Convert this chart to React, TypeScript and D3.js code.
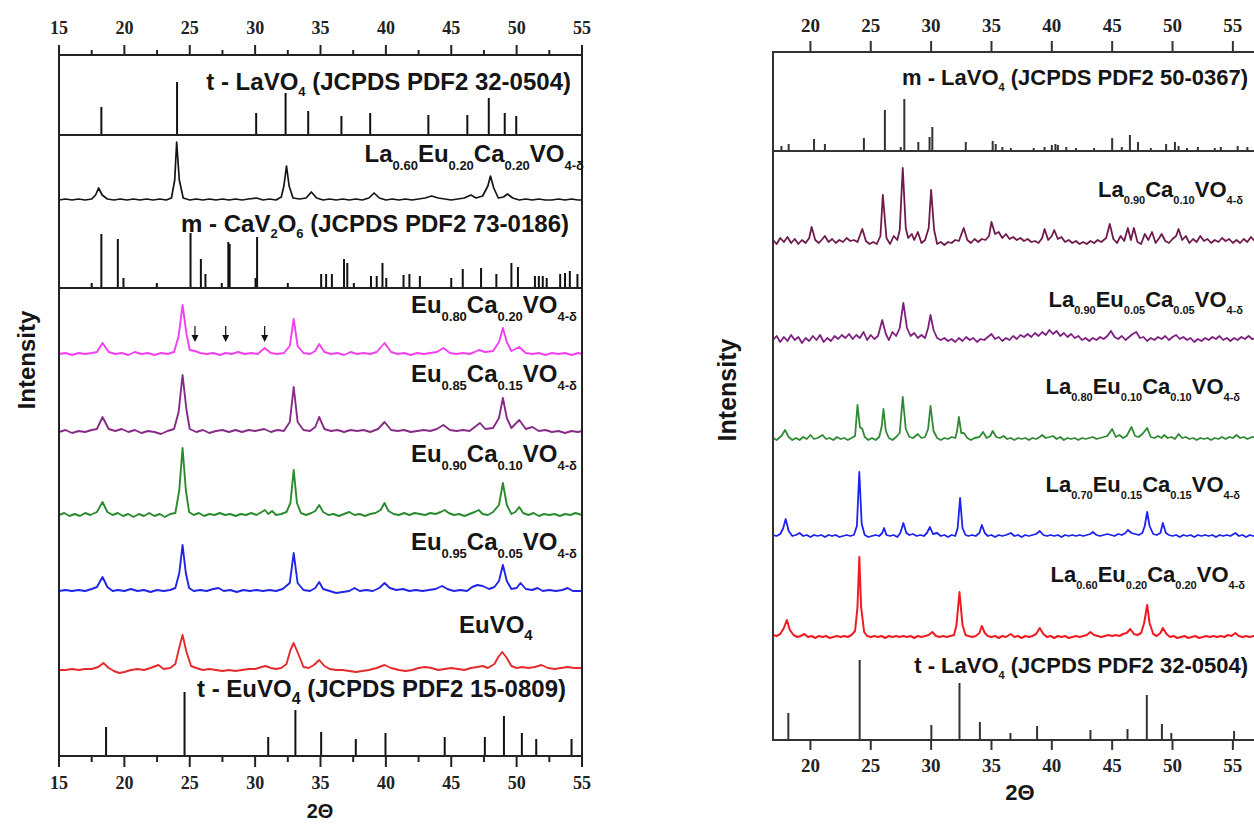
import React from "react";
import * as d3 from "d3";

type Pt = [number, number];

// ---------- axis ticks ----------
const leftMajorTicks = [15, 20, 25, 30, 35, 40, 45, 50, 55];
const leftMinorTicks = [17.5, 22.5, 27.5, 32.5, 37.5, 42.5, 47.5, 52.5];
const rightMajorTicks = [20, 25, 30, 35, 40, 45, 50, 55];

// ---------- left panel reference patterns (2θ, intensity) ----------
const tLaVO4Left: Pt[] = [[18.24,28],[24.03,53],[30.08,22],[32.33,42],[34.06,24],[36.6,19],[38.8,22],[43.25,20],[46.23,20],[47.87,37],[49.09,22],[49.97,19]];
const mCaV2O6: Pt[] = [[17.5,5],[18.24,54],[19.5,49],[19.93,10],[22.48,5],[25.06,55],[25.85,29],[26.2,14],[27.45,5],[27.95,46],[28.05,44],[30.03,10],[30.15,51],[32.5,5],[35.05,14],[35.43,14],[35.87,14],[36.8,29],[37.05,25],[37.55,5],[38.86,12],[39.3,12],[39.74,25],[40.03,10],[41.35,13],[41.8,14],[42.6,12],[45.0,10],[45.88,19],[47.28,20],[48.45,14],[49.6,25],[50.1,21],[51.4,12],[51.7,12],[52.0,12],[52.3,10],[53.33,14],[53.7,15],[54.07,17],[54.65,14]];
const tEuVO4: Pt[] = [[18.6,29],[24.6,64],[31.0,19],[33.08,46],[35.05,24],[37.7,17],[39.97,23],[44.5,19],[47.57,19],[49.03,40],[50.4,23],[51.5,17],[54.2,17]];

// ---------- left panel measured patterns ----------
const la60Left: Pt[] = [[15,0],[15.5,1],[16,0],[16.5,1],[17,0],[17.5,1],[17.8,5],[18.03,12],[18.3,5],[18.7,1],[19.2,0],[19.7,1],[20.2,0],[20.7,1],[21.2,0],[21.7,1],[22.2,0],[22.7,1],[23.2,0],[23.6,2],[23.85,20],[24.0,58],[24.2,20],[24.5,2],[25.0,0],[25.5,1],[26.0,0],[26.5,1],[27.0,0],[27.5,1],[28.0,0],[28.5,1],[29.0,0],[29.5,1],[30.1,2],[30.6,0],[31.1,1],[31.6,0],[32.0,3],[32.2,14],[32.4,34],[32.6,14],[32.9,2],[33.4,1],[33.9,2],[34.3,8],[34.7,2],[35.2,0],[35.7,1],[36.2,0],[36.7,1],[37.2,0],[37.7,1],[38.2,0],[38.7,2],[39.1,7],[39.5,2],[40.0,0],[40.5,1],[41.0,0],[41.5,1],[42.0,0],[42.5,1],[43.0,2],[43.5,4],[44.0,2],[44.5,1],[45.0,0],[45.5,1],[46.0,2],[46.5,5],[46.9,2],[47.4,4],[47.8,14],[48.0,24],[48.25,12],[48.6,2],[49.0,3],[49.3,6],[49.7,2],[50.2,0],[50.7,1],[51.2,0],[51.7,1],[52.2,0],[52.7,0],[53.2,1],[53.7,0],[54.2,1],[54.7,0],[55,0]];
const eu80: Pt[] = [[15,0],[15.5,1],[16,-1],[16.5,1],[17,0],[17.5,1],[17.9,2],[18.33,11],[18.8,2],[19.3,0],[19.8,1],[20.3,-1],[20.8,2],[21.3,0],[21.8,1],[22.3,-1],[22.8,1],[23.3,0],[23.8,2],[24.15,18],[24.45,49],[24.75,20],[25.0,4],[25.4,3],[25.8,1],[26.3,0],[26.8,1],[27.3,-1],[27.75,1],[28.2,0],[28.7,2],[29.2,0],[29.7,1],[30.2,0],[30.73,6],[31.2,1],[31.7,0],[32.2,1],[32.65,8],[32.95,35],[33.25,8],[33.7,1],[34.2,0],[34.6,3],[34.9,10],[35.3,2],[35.8,0],[36.3,1],[36.8,-1],[37.3,2],[37.8,0],[38.3,1],[38.8,0],[39.3,2],[39.9,11],[40.4,2],[40.9,0],[41.4,1],[41.9,-1],[42.4,1],[42.9,0],[43.4,1],[43.9,2],[44.4,6],[44.9,1],[45.4,0],[45.9,1],[46.4,0],[46.8,2],[47.1,4],[47.6,2],[48.2,3],[48.65,12],[48.95,26],[49.25,12],[49.6,3],[50.2,7],[50.7,1],[51.2,0],[51.7,1],[52.2,-1],[52.7,1],[53.2,0],[53.7,1],[54.2,-1],[54.7,1],[55,0]];
const eu85: Pt[] = [[15,0],[15.5,2],[16,-1],[16.5,1],[17,0],[17.5,2],[17.9,3],[18.33,15],[18.8,3],[19.3,1],[19.8,3],[20.3,0],[20.8,2],[21.3,-1],[21.8,1],[22.3,0],[22.8,-2],[23.3,1],[23.8,3],[24.15,20],[24.45,57],[24.75,22],[25.0,3],[25.5,0],[26.0,2],[26.5,-1],[27.0,1],[27.5,2],[28.0,0],[28.5,2],[29.0,0],[29.5,2],[30.0,1],[30.7,3],[31.2,0],[31.7,2],[32.2,1],[32.65,10],[32.95,45],[33.25,10],[33.7,2],[34.2,1],[34.6,5],[34.9,15],[35.3,3],[35.8,1],[36.3,2],[36.8,0],[37.3,2],[37.8,1],[38.3,2],[38.8,0],[39.4,3],[39.9,10],[40.4,2],[40.9,1],[41.4,2],[41.9,0],[42.4,1],[42.9,2],[43.4,1],[43.9,3],[44.4,7],[44.9,2],[45.4,1],[45.9,2],[46.4,1],[46.8,5],[47.2,9],[47.6,3],[48.2,4],[48.65,14],[48.95,34],[49.25,14],[49.6,4],[50.2,12],[50.7,3],[51.2,5],[51.7,1],[52.2,2],[52.7,0],[53.2,1],[53.7,-1],[54.2,1],[54.7,0],[55,1]];
const eu90: Pt[] = [[15,0],[15.4,2],[15.8,-1],[16.2,1],[16.6,-1],[17.0,2],[17.4,0],[17.9,3],[18.33,13],[18.7,3],[19.1,0],[19.5,2],[19.9,-1],[20.3,1],[20.7,-2],[21.1,1],[21.5,-1],[21.9,2],[22.3,-1],[22.7,1],[23.1,-2],[23.5,1],[23.9,2],[24.2,25],[24.45,67],[24.7,25],[24.95,3],[25.3,0],[25.7,2],[26.1,-1],[26.5,1],[26.9,0],[27.3,2],[27.7,0],[28.1,1],[28.5,-1],[28.9,1],[29.3,0],[29.7,2],[30.1,0],[30.5,3],[30.75,5],[31.0,1],[31.3,4],[31.6,0],[32.0,1],[32.4,3],[32.7,12],[32.95,45],[33.2,12],[33.5,2],[33.9,0],[34.3,2],[34.6,4],[34.9,10],[35.2,3],[35.6,0],[36.0,1],[36.4,-1],[36.8,1],[37.2,3],[37.6,0],[38.0,1],[38.4,-1],[38.8,1],[39.2,2],[39.6,5],[39.9,12],[40.2,4],[40.6,1],[41.0,0],[41.4,2],[41.8,0],[42.2,2],[42.6,1],[43.0,0],[43.4,2],[43.8,1],[44.2,3],[44.5,5],[44.8,2],[45.2,0],[45.6,1],[46.0,-1],[46.4,1],[46.8,3],[47.1,5],[47.4,1],[47.8,0],[48.2,3],[48.65,10],[48.95,32],[49.25,10],[49.6,1],[49.9,3],[50.2,8],[50.5,2],[50.9,0],[51.3,2],[51.7,-1],[52.1,1],[52.5,0],[52.9,1],[53.3,-1],[53.7,1],[54.1,0],[54.5,2],[55,0]];
const eu95: Pt[] = [[15,0],[15.5,1],[16,0],[16.5,1],[17,0],[17.5,2],[17.9,4],[18.33,14],[18.7,4],[19.1,0],[19.5,1],[20.0,0],[20.5,2],[21.0,0],[21.5,1],[22.0,-1],[22.5,1],[23.0,0],[23.5,1],[23.9,3],[24.2,18],[24.45,46],[24.7,18],[24.95,3],[25.3,0],[25.8,1],[26.3,0],[26.8,2],[27.2,3],[27.6,0],[28.1,1],[28.6,-1],[29.1,1],[29.6,0],[30.1,1],[30.6,0],[31.1,1],[31.6,0],[32.1,2],[32.65,8],[32.95,38],[33.25,8],[33.7,1],[34.2,0],[34.6,3],[34.9,9],[35.2,2],[35.7,0],[36.2,-2],[36.7,-1],[37.2,0],[37.6,3],[38.0,0],[38.5,1],[39.0,0],[39.5,3],[39.9,8],[40.3,3],[40.8,1],[41.3,2],[41.8,0],[42.3,1],[42.8,0],[43.3,1],[43.8,2],[44.3,5],[44.7,2],[45.2,0],[45.7,1],[46.2,0],[46.6,4],[47.0,6],[47.4,5],[47.9,2],[48.3,4],[48.65,10],[48.95,26],[49.25,10],[49.6,2],[50.0,3],[50.3,8],[50.7,2],[51.2,1],[51.6,3],[52.0,0],[52.5,1],[53.0,0],[53.5,1],[53.9,3],[54.3,0],[55,0]];
const euVO4: Pt[] = [[15,0],[15.5,0],[16,1],[16.5,0],[17,1],[17.5,1],[18.0,3],[18.4,7],[18.8,2],[19.2,-1],[19.6,-3],[20.0,-2],[20.5,0],[21.0,1],[21.5,0],[22.0,2],[22.6,5],[23.0,1],[23.5,2],[23.9,6],[24.15,20],[24.45,35],[24.75,18],[25.1,4],[25.5,2],[26.0,0],[26.5,1],[27.0,0],[27.5,-1],[28.0,0],[28.5,-1],[29.0,0],[29.5,1],[30.0,1],[30.5,3],[30.8,4],[31.2,2],[31.6,1],[32.0,2],[32.4,6],[32.7,20],[32.95,27],[33.3,16],[33.7,3],[34.1,2],[34.5,5],[34.9,10],[35.3,4],[35.7,1],[36.2,0],[36.7,0],[37.2,-1],[37.7,-2],[38.2,-1],[38.7,0],[39.3,2],[39.9,5],[40.4,2],[41.0,0],[41.5,-1],[42.0,0],[42.5,2],[43.0,3],[43.5,2],[44.0,0],[44.5,1],[45.0,2],[45.5,1],[46.0,0],[46.5,2],[47.0,3],[47.4,4],[47.8,2],[48.3,6],[48.6,13],[48.9,18],[49.2,13],[49.6,4],[50.0,2],[50.4,3],[50.9,2],[51.4,3],[51.9,5],[52.4,2],[52.9,1],[53.4,2],[53.9,3],[54.4,2],[55,2]];
const arrowPositions = [25.4, 27.75, 30.73];

// ---------- right panel reference patterns ----------
const mLaVO4: Pt[] = [[17.6,5],[18.2,7],[20.3,12],[21.2,7],[24.43,13],[26.17,41],[27.48,4],[27.78,52],[28.94,9],[29.87,14],[30.1,24],[32.87,9],[35.1,10],[35.35,7],[35.9,4],[36.6,3],[38.5,3],[39.4,4],[40.0,6],[40.3,7],[40.5,6],[41.2,4],[42.0,3],[43.5,3],[45.0,13],[45.8,4],[46.47,16],[47.14,9],[48.2,3],[49.47,7],[50.2,9],[50.5,5],[51.2,3],[52.1,4],[53.5,3],[54.0,4],[55.4,5],[56.2,4]];
const tLaVO4Right: Pt[] = [[18.17,27],[24.08,80],[30.02,15],[32.35,57],[34.04,18],[36.57,7],[38.78,14],[43.2,10],[46.27,11],[47.87,45],[49.12,16],[49.9,7],[55.1,9]];

// ---------- right panel measured patterns ----------
const la90Ca10: Pt[] = [[16.9,2],[17.2,-2],[17.5,4],[17.8,0],[18.1,5],[18.4,-1],[18.7,3],[19.0,-2],[19.3,2],[19.6,-1],[19.9,4],[20.1,15],[20.4,2],[20.7,-1],[21.0,3],[21.2,6],[21.5,0],[21.8,3],[22.1,-1],[22.4,2],[22.7,0],[23.0,4],[23.3,1],[23.6,2],[23.9,0],[24.3,13],[24.6,1],[24.9,-2],[25.2,0],[25.5,-2],[25.8,6],[26.0,47],[26.3,4],[26.6,-2],[26.9,6],[27.2,2],[27.4,12],[27.65,74],[27.9,14],[28.1,4],[28.4,8],[28.6,2],[28.9,10],[29.2,-1],[29.5,2],[29.8,14],[30.0,52],[30.25,12],[30.5,-2],[30.8,0],[31.1,-3],[31.4,0],[31.7,-1],[32.0,2],[32.3,1],[32.7,14],[33.0,2],[33.3,-1],[33.6,3],[33.9,0],[34.2,3],[34.5,2],[34.8,6],[35.0,20],[35.3,8],[35.6,10],[35.9,4],[36.2,8],[36.5,3],[36.8,5],[37.1,2],[37.4,4],[37.7,1],[38.0,3],[38.3,0],[38.6,1],[38.9,-1],[39.2,4],[39.4,13],[39.7,2],[40.0,6],[40.2,12],[40.5,3],[40.8,5],[41.1,0],[41.4,2],[41.7,-1],[42.0,1],[42.3,-2],[42.6,0],[42.9,-2],[43.2,1],[43.5,-1],[43.8,2],[44.1,0],[44.5,4],[44.8,18],[45.1,3],[45.4,-1],[45.7,6],[46.0,1],[46.3,14],[46.55,2],[46.8,14],[47.1,0],[47.4,-2],[47.7,8],[48.0,2],[48.3,10],[48.6,-1],[48.9,4],[49.1,8],[49.4,1],[49.7,-1],[50.0,3],[50.3,6],[50.5,13],[50.8,2],[51.1,6],[51.4,-1],[51.7,3],[52.0,0],[52.3,6],[52.6,1],[52.9,3],[53.2,-1],[53.5,2],[53.8,0],[54.1,4],[54.4,1],[54.7,3],[55.0,-1],[55.3,2],[55.6,-1],[55.9,3],[56.2,0],[56.5,5],[56.8,1],[57.0,2]];
const la90Eu05: Pt[] = [[16.9,0],[17.2,4],[17.5,-2],[17.8,3],[18.1,-1],[18.4,5],[18.7,0],[19.0,3],[19.3,-3],[19.6,2],[19.9,-1],[20.2,4],[20.5,0],[20.8,5],[21.1,-2],[21.4,2],[21.7,-1],[22.0,4],[22.3,1],[22.6,5],[22.9,2],[23.2,6],[23.5,1],[23.8,5],[24.1,2],[24.4,8],[24.7,0],[25.0,5],[25.3,1],[25.6,4],[25.95,20],[26.25,6],[26.5,0],[26.8,8],[27.1,4],[27.4,12],[27.7,37],[28.0,12],[28.3,4],[28.6,7],[28.9,2],[29.2,5],[29.5,2],[29.75,12],[29.95,25],[30.2,10],[30.5,2],[30.8,0],[31.1,2],[31.4,-1],[31.7,1],[32.0,-2],[32.3,2],[32.6,-1],[32.9,3],[33.2,0],[33.5,2],[33.8,-2],[34.1,1],[34.4,0],[34.7,3],[35.0,6],[35.3,1],[35.6,3],[35.9,-1],[36.2,2],[36.5,0],[36.8,4],[37.1,1],[37.4,5],[37.7,3],[38.0,6],[38.3,3],[38.6,7],[38.9,4],[39.2,8],[39.5,5],[39.8,10],[40.1,6],[40.4,9],[40.7,4],[41.0,7],[41.3,3],[41.6,6],[41.9,2],[42.2,4],[42.5,0],[42.8,2],[43.1,-1],[43.4,2],[43.7,0],[44.0,3],[44.3,1],[44.6,4],[44.9,9],[45.2,3],[45.5,1],[45.8,4],[46.1,0],[46.4,3],[46.7,6],[47.0,8],[47.3,2],[47.6,3],[47.9,-1],[48.2,2],[48.5,0],[48.8,3],[49.1,1],[49.4,4],[49.7,0],[50.0,3],[50.3,5],[50.6,1],[50.9,3],[51.2,0],[51.5,2],[51.8,-2],[52.1,1],[52.4,-1],[52.7,2],[53.0,0],[53.3,3],[53.6,1],[53.9,4],[54.2,0],[54.5,2],[54.8,-1],[55.1,2],[55.4,0],[55.7,3],[56.0,1],[56.3,4],[56.6,1],[57.0,2]];
const la80Eu10: Pt[] = [[16.9,1],[17.2,-1],[17.6,3],[17.9,9],[18.2,2],[18.5,-1],[18.8,1],[19.1,-1],[19.4,2],[19.7,0],[20.0,4],[20.3,0],[20.6,1],[21.0,4],[21.3,0],[21.6,1],[21.9,-1],[22.2,2],[22.5,0],[22.8,1],[23.1,-1],[23.4,1],[23.7,3],[23.9,34],[24.1,12],[24.3,10],[24.5,2],[24.8,-1],[25.1,1],[25.4,-1],[25.7,2],[25.9,12],[26.05,30],[26.25,8],[26.5,1],[26.8,-1],[27.1,2],[27.4,6],[27.65,42],[27.9,10],[28.2,2],[28.5,1],[28.9,5],[29.2,1],[29.5,2],[29.75,10],[29.95,33],[30.2,8],[30.5,1],[30.8,-1],[31.1,1],[31.4,0],[31.7,2],[32.0,1],[32.15,8],[32.3,22],[32.5,6],[32.7,6],[33.0,1],[33.3,-1],[33.6,1],[34.0,2],[34.3,7],[34.6,1],[34.9,3],[35.1,8],[35.4,2],[35.7,1],[36.0,3],[36.3,0],[36.6,1],[36.9,-1],[37.2,1],[37.5,0],[37.8,1],[38.1,-1],[38.4,1],[38.7,0],[39.0,2],[39.2,4],[39.5,1],[39.8,2],[40.1,3],[40.4,0],[40.7,2],[41.0,-1],[41.3,1],[41.6,0],[41.9,1],[42.2,-1],[42.5,1],[42.8,0],[43.1,1],[43.4,2],[43.7,0],[44.0,1],[44.3,2],[44.6,3],[45.0,10],[45.3,2],[45.6,4],[45.9,1],[46.2,3],[46.6,12],[46.9,3],[47.2,2],[47.5,5],[47.9,11],[48.2,2],[48.5,1],[48.8,3],[49.1,1],[49.3,4],[49.6,1],[49.9,2],[50.2,0],[50.5,5],[50.8,1],[51.1,2],[51.4,0],[51.7,1],[52.0,-1],[52.3,1],[52.6,0],[52.9,1],[53.2,-1],[53.5,1],[53.8,0],[54.1,2],[54.4,0],[54.7,2],[55.0,1],[55.3,4],[55.6,1],[55.9,2],[56.2,0],[56.6,2],[57.0,1]];
const la70Eu15: Pt[] = [[16.9,1],[17.2,0],[17.5,2],[17.75,8],[17.95,17],[18.2,5],[18.5,0],[18.8,1],[19.1,3],[19.4,0],[19.7,1],[20.0,-1],[20.3,1],[20.6,0],[20.9,1],[21.2,-1],[21.5,1],[21.8,0],[22.1,1],[22.4,-1],[22.7,0],[23.0,1],[23.3,0],[23.6,1],[23.85,10],[24.05,64],[24.25,12],[24.5,1],[24.8,-1],[25.1,0],[25.4,1],[25.7,0],[25.95,3],[26.1,8],[26.3,1],[26.6,0],[26.9,1],[27.2,-1],[27.45,3],[27.7,13],[27.95,3],[28.2,1],[28.5,2],[28.8,0],[29.1,1],[29.4,0],[29.65,3],[29.9,9],[30.15,2],[30.5,3],[30.8,0],[31.1,1],[31.4,-1],[31.7,1],[32.0,0],[32.2,8],[32.4,38],[32.6,8],[32.85,1],[33.1,0],[33.4,1],[33.7,0],[34.0,3],[34.2,11],[34.45,3],[34.7,0],[35.0,1],[35.3,-1],[35.6,1],[35.9,0],[36.2,1],[36.6,3],[36.9,0],[37.2,1],[37.5,-1],[37.8,1],[38.1,0],[38.4,1],[38.7,2],[39.0,5],[39.3,1],[39.6,0],[39.9,1],[40.2,0],[40.5,1],[40.8,-1],[41.1,1],[41.4,0],[41.7,1],[42.0,0],[42.3,1],[42.6,0],[42.9,1],[43.2,2],[43.4,4],[43.7,1],[44.0,0],[44.3,1],[44.6,2],[44.9,1],[45.2,0],[45.5,2],[45.8,1],[46.1,3],[46.3,6],[46.6,3],[46.9,2],[47.2,1],[47.5,3],[47.7,10],[47.9,24],[48.1,10],[48.4,2],[48.7,1],[49.0,3],[49.2,13],[49.45,3],[49.7,1],[50.0,0],[50.3,1],[50.6,-1],[50.9,1],[51.2,0],[51.5,1],[51.8,-1],[52.1,1],[52.4,0],[52.7,1],[53.0,0],[53.3,1],[53.6,-1],[53.9,1],[54.2,0],[54.5,1],[54.8,0],[55.2,3],[55.5,0],[55.8,1],[56.1,-1],[56.4,1],[56.7,0],[57.0,1]];
const la60Right: Pt[] = [[16.9,2],[17.2,1],[17.5,3],[17.8,9],[18.05,17],[18.3,7],[18.6,2],[18.9,0],[19.2,1],[19.5,3],[19.8,0],[20.1,1],[20.4,-1],[20.7,1],[21.0,0],[21.3,1],[21.6,-1],[21.9,0],[22.2,1],[22.5,0],[22.8,1],[23.1,0],[23.4,2],[23.7,6],[23.9,30],[24.05,80],[24.2,30],[24.45,5],[24.7,1],[25.0,0],[25.3,1],[25.6,0],[25.9,1],[26.2,-1],[26.5,1],[26.8,0],[27.1,1],[27.4,0],[27.7,1],[28.0,0],[28.3,1],[28.6,-1],[28.9,1],[29.2,0],[29.5,1],[29.8,2],[30.1,5],[30.4,1],[30.7,0],[31.0,1],[31.3,0],[31.6,1],[31.9,2],[32.1,12],[32.35,45],[32.6,12],[32.85,2],[33.1,1],[33.4,0],[33.7,1],[34.0,4],[34.2,11],[34.45,4],[34.7,1],[35.0,0],[35.3,1],[35.6,-1],[35.9,1],[36.2,0],[36.6,3],[36.9,0],[37.2,1],[37.5,-1],[37.8,1],[38.1,0],[38.4,1],[38.7,3],[39.0,9],[39.3,3],[39.6,0],[39.9,1],[40.2,-1],[40.5,1],[40.8,0],[41.1,1],[41.4,-1],[41.7,0],[42.0,1],[42.3,0],[42.6,1],[42.9,2],[43.2,5],[43.5,2],[43.8,1],[44.1,0],[44.4,1],[44.7,2],[45.0,1],[45.3,2],[45.6,1],[45.9,3],[46.2,4],[46.5,8],[46.8,3],[47.1,2],[47.4,4],[47.65,14],[47.9,32],[48.1,14],[48.4,3],[48.7,1],[49.0,4],[49.2,9],[49.5,3],[49.8,0],[50.1,1],[50.4,-1],[50.7,0],[51.0,1],[51.3,-1],[51.6,0],[51.9,1],[52.2,-1],[52.5,0],[52.8,1],[53.1,0],[53.4,1],[53.7,0],[54.0,1],[54.3,0],[54.6,2],[54.9,1],[55.2,4],[55.5,1],[55.8,0],[56.1,1],[56.4,0],[56.7,1],[57.0,1]];

// ---------- labels: [text, subscript?] ----------
type Part = [string, boolean];
const lblTLa: Part[] = [["t - LaVO", false], ["4", true], [" (JCPDS PDF2 32-0504)", false]];
const lblLa60: Part[] = [["La", false], ["0.60", true], ["Eu", false], ["0.20", true], ["Ca", false], ["0.20", true], ["VO", false], ["4-δ", true]];
const lblCaV: Part[] = [["m - CaV", false], ["2", true], ["O", false], ["6", true], [" (JCPDS PDF2 73-0186)", false]];
const lblEu80: Part[] = [["Eu", false], ["0.80", true], ["Ca", false], ["0.20", true], ["VO", false], ["4-δ", true]];
const lblEu85: Part[] = [["Eu", false], ["0.85", true], ["Ca", false], ["0.15", true], ["VO", false], ["4-δ", true]];
const lblEu90: Part[] = [["Eu", false], ["0.90", true], ["Ca", false], ["0.10", true], ["VO", false], ["4-δ", true]];
const lblEu95: Part[] = [["Eu", false], ["0.95", true], ["Ca", false], ["0.05", true], ["VO", false], ["4-δ", true]];
const lblEuVO4: Part[] = [["EuVO", false], ["4", true]];
const lblTEu: Part[] = [["t - EuVO", false], ["4", true], [" (JCPDS PDF2 15-0809)", false]];
const lblMLa: Part[] = [["m - LaVO", false], ["4", true], [" (JCPDS PDF2 50-0367)", false]];
const lblLa90Ca: Part[] = [["La", false], ["0.90", true], ["Ca", false], ["0.10", true], ["VO", false], ["4-δ", true]];
const lblLa90Eu: Part[] = [["La", false], ["0.90", true], ["Eu", false], ["0.05", true], ["Ca", false], ["0.05", true], ["VO", false], ["4-δ", true]];
const lblLa80: Part[] = [["La", false], ["0.80", true], ["Eu", false], ["0.10", true], ["Ca", false], ["0.10", true], ["VO", false], ["4-δ", true]];
const lblLa70: Part[] = [["La", false], ["0.70", true], ["Eu", false], ["0.15", true], ["Ca", false], ["0.15", true], ["VO", false], ["4-δ", true]];
const lblLa60R: Part[] = [["La", false], ["0.60", true], ["Eu", false], ["0.20", true], ["Ca", false], ["0.20", true], ["VO", false], ["4-δ", true]];
const lblTLaR: Part[] = [["t - LaVO", false], ["4", true], [" (JCPDS PDF2 32-0504)", false]];

const SANS = "'Liberation Sans', Arial, Helvetica, sans-serif";
const SERIF = "'Liberation Serif', 'Times New Roman', serif";

function Formula({ parts, x, y, size, sub, anchor = "end", subDy }: { parts: Part[]; x: number; y: number; size: number; sub: number; anchor?: string; subDy: number }) {
  let prevSub = false;
  return (
    <text x={x} y={y} textAnchor={anchor} fontFamily={SANS} fontWeight="bold" fontSize={size} fill="#151515">
      {parts.map(([t, isSub], i) => {
        let dy = 0;
        if (isSub && !prevSub) dy = subDy;
        if (!isSub && prevSub) dy = -subDy;
        prevSub = isSub;
        return (
          <tspan key={i} dy={dy} fontSize={isSub ? sub : size}>{t}</tspan>
        );
      })}
    </text>
  );
}

export default function App() {
  // left panel scales
  const xL = d3.scaleLinear().domain([15, 55]).range([59, 582]);
  const yL = d3.scaleLinear().domain([0, 701]).range([756, 55]);
  // right panel scales
  const xR = d3.scaleLinear().domain([16.9, 57]).range([773, 773 + 40.1 * 12.07]);
  const yR = d3.scaleLinear().domain([0, 688]).range([740, 52]);

  const leftTraces: { data: Pt[]; off: number; color: string; w: number }[] = [
    { data: la60Left, off: 556, color: "#141414", w: 1.7 },
    { data: eu80, off: 402, color: "#f23ff0", w: 1.9 },
    { data: eu85, off: 324, color: "#862c86", w: 1.9 },
    { data: eu90, off: 241, color: "#2a8a2e", w: 1.9 },
    { data: eu95, off: 165, color: "#1f24e6", w: 1.9 },
    { data: euVO4, off: 86, color: "#e42a2a", w: 1.9 },
  ];
  const leftSticks: { data: Pt[]; off: number }[] = [
    { data: tLaVO4Left, off: 621 },
    { data: mCaV2O6, off: 468 },
    { data: tEuVO4, off: 0 },
  ];
  const rightTraces: { data: Pt[]; off: number; color: string; w: number }[] = [
    { data: la90Ca10, off: 498, color: "#6f1a4c", w: 1.8 },
    { data: la90Eu05, off: 400, color: "#7d1f7f", w: 1.8 },
    { data: la80Eu10, off: 301, color: "#2f8a33", w: 1.8 },
    { data: la70Eu15, off: 204, color: "#1e22ee", w: 1.8 },
    { data: la60Right, off: 103, color: "#ee1c22", w: 2 },
  ];
  const rightSticks: { data: Pt[]; off: number }[] = [
    { data: mLaVO4, off: 589 },
    { data: tLaVO4Right, off: 0 },
  ];

  const lineFor = (x: d3.ScaleLinear<number, number>, y: d3.ScaleLinear<number, number>, off: number) =>
    d3.line<Pt>().x((d) => x(d[0])).y((d) => y(off + d[1])).curve(d3.curveLinear);

  const leftSep = [621, 468];
  const rightSep = [589];

  return (
    <svg width={1254} height={825} style={{ position: "absolute", left: 0, top: 0, background: "#fff" }}>
      <defs>
        <clipPath id="clipR">
          <rect x={773} y={52} width={490} height={688} />
        </clipPath>
        <clipPath id="clipL">
          <rect x={59} y={55} width={523} height={701} />
        </clipPath>
      </defs>
      <rect x={0} y={0} width={1254} height={825} fill="#fff" />

      {/* ===== LEFT PANEL ===== */}
      <g clipPath="url(#clipL)">
        {leftTraces.map((t, i) => (
          <path key={i} d={lineFor(xL, yL, t.off)(t.data) || ""} fill="none" stroke={t.color} strokeWidth={t.w} strokeLinejoin="round" />
        ))}
        {leftSticks.map((s, i) => (
          <g key={i}>
            {s.data.map((d, j) => (
              <line key={j} x1={xL(d[0])} x2={xL(d[0])} y1={yL(s.off)} y2={yL(s.off + d[1])} stroke="#111" strokeWidth={2} />
            ))}
          </g>
        ))}
      </g>
      {leftSep.map((o, i) => (
        <line key={i} x1={xL(15)} x2={xL(55)} y1={yL(o)} y2={yL(o)} stroke="#222" strokeWidth={2} />
      ))}
      {arrowPositions.map((p, i) => {
        const x = xL(p);
        const tip = yL(402 + 12);
        return (
          <g key={i}>
            <line x1={x} x2={x} y1={tip - 16} y2={tip - 6} stroke="#111" strokeWidth={1.2} />
            <path d={`M${x - 3.5},${tip - 7} L${x + 3.5},${tip - 7} L${x},${tip} Z`} fill="#111" />
          </g>
        );
      })}
      <rect x={59} y={55} width={523} height={701} fill="none" stroke="#222" strokeWidth={2} />
      {leftMajorTicks.map((t) => (
        <g key={t}>
          <line x1={xL(t)} x2={xL(t)} y1={55} y2={45} stroke="#222" strokeWidth={2} />
          <line x1={xL(t)} x2={xL(t)} y1={756} y2={767} stroke="#222" strokeWidth={2} />
          <text x={xL(t)} y={34} textAnchor="middle" fontFamily={SERIF} fontWeight="bold" fontSize={18} fill="#222">{t}</text>
          <text x={xL(t)} y={789} textAnchor="middle" fontFamily={SERIF} fontWeight="bold" fontSize={18} fill="#222">{t}</text>
        </g>
      ))}
      {leftMinorTicks.map((t) => (
        <g key={t}>
          <line x1={xL(t)} x2={xL(t)} y1={55} y2={50} stroke="#222" strokeWidth={2} />
          <line x1={xL(t)} x2={xL(t)} y1={756} y2={762} stroke="#222" strokeWidth={2} />
        </g>
      ))}
      <Formula parts={lblTLa} x={571} y={90} size={24} sub={13} subDy={6} />
      <Formula parts={lblLa60} x={584} y={162} size={24} sub={13} subDy={8} />
      <Formula parts={lblCaV} x={569} y={232} size={24} sub={13} subDy={6} />
      <Formula parts={lblEu80} x={577} y={313} size={24} sub={13} subDy={8} />
      <Formula parts={lblEu85} x={577} y={382} size={24} sub={13} subDy={8} />
      <Formula parts={lblEu90} x={577} y={462} size={24} sub={13} subDy={8} />
      <Formula parts={lblEu95} x={577} y={550} size={24} sub={13} subDy={8} />
      <Formula parts={lblEuVO4} x={459} y={633} size={24} sub={15} subDy={7} anchor="start" />
      <Formula parts={lblTEu} x={566} y={697} size={24} sub={16} subDy={7} />
      <text x={26} y={360} transform="rotate(-90,26,360)" textAnchor="middle" dominantBaseline="central" fontFamily={SANS} fontWeight="bold" fontSize={24} fill="#151515">Intensity</text>
      <text x={320} y={818} textAnchor="middle" fontFamily={SANS} fontWeight="bold" fontSize={20} fill="#151515">2Θ</text>

      {/* ===== RIGHT PANEL ===== */}
      <g clipPath="url(#clipR)">
        {rightTraces.map((t, i) => (
          <path key={i} d={lineFor(xR, yR, t.off)(t.data) || ""} fill="none" stroke={t.color} strokeWidth={t.w} strokeLinejoin="round" />
        ))}
        {rightSticks.map((s, i) => (
          <g key={i}>
            {s.data.map((d, j) => (
              <line key={j} x1={xR(d[0])} x2={xR(d[0])} y1={yR(s.off)} y2={yR(s.off + d[1])} stroke="#333" strokeWidth={2} />
            ))}
          </g>
        ))}
      </g>
      {rightSep.map((o, i) => (
        <line key={i} x1={773} x2={1257} y1={yR(o)} y2={yR(o)} stroke="#333" strokeWidth={2} />
      ))}
      <rect x={773} y={52} width={484} height={688} fill="none" stroke="#333" strokeWidth={2} />
      {rightMajorTicks.map((t) => (
        <g key={t}>
          <line x1={xR(t)} x2={xR(t)} y1={52} y2={41} stroke="#333" strokeWidth={2} />
          <line x1={xR(t)} x2={xR(t)} y1={740} y2={750} stroke="#333" strokeWidth={2} />
          <text x={xR(t)} y={32} textAnchor="middle" fontFamily={SERIF} fontWeight="bold" fontSize={19} fill="#222">{t}</text>
          <text x={xR(t)} y={772} textAnchor="middle" fontFamily={SERIF} fontWeight="bold" fontSize={19} fill="#222">{t}</text>
        </g>
      ))}
      <Formula parts={lblMLa} x={1248} y={85} size={22} sub={11} subDy={6} />
      <Formula parts={lblLa90Ca} x={1243} y={197} size={22} sub={11} subDy={7} />
      <Formula parts={lblLa90Eu} x={1243} y={307} size={22} sub={11} subDy={7} />
      <Formula parts={lblLa80} x={1240} y={394} size={22} sub={11} subDy={7} />
      <Formula parts={lblLa70} x={1240} y={492} size={22} sub={11} subDy={7} />
      <Formula parts={lblLa60R} x={1245} y={582} size={22} sub={11} subDy={7} />
      <Formula parts={lblTLaR} x={1248} y={673} size={22} sub={11} subDy={6} />
      <text x={727} y={390} transform="rotate(-90,727,390)" textAnchor="middle" dominantBaseline="central" fontFamily={SANS} fontWeight="bold" fontSize={25} fill="#151515">Intensity</text>
      <text x={1020} y={800} textAnchor="middle" fontFamily={SANS} fontWeight="bold" fontSize={22} fill="#151515">2Θ</text>
    </svg>
  );
}
